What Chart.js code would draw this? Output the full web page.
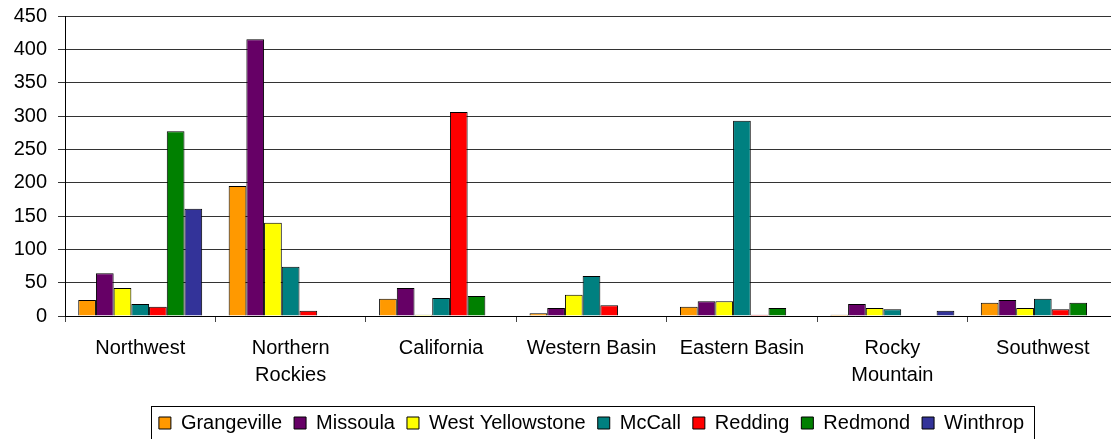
<!DOCTYPE html>
<html>
<head>
<meta charset="utf-8">
<title>Regional counts by station</title>
<script src="https://cdn.jsdelivr.net/npm/chart.js@4.4.1/dist/chart.umd.min.js"></script>
<style>
    html, body {
        margin: 0;
        padding: 0;
        background: #ffffff;
        overflow: hidden;
    }
    #wrap {
        position: absolute;
        left: 0;
        top: 0;
    }
</style>
</head>
<body>
<div id="wrap">
    <canvas id="regionChart" width="1125" height="450"></canvas>
</div>
<script>
// Categories and tick labels
const regions = ['Northwest', ['Northern', 'Rockies'], 'California', 'Western Basin', 'Eastern Basin', ['Rocky', 'Mountain'], 'Southwest'];
const yTicks = [0, 50, 100, 150, 200, 250, 300, 350, 400, 450];

// One series per station, in region order
const grangeville      = [24, 195, 26, 4, 14, 2, 20];
const missoula         = [64, 415, 42, 12, 22, 18, 24];
const westYellowstone  = [42, 140, 2, 32, 22, 12, 12];
const mcCall           = [18, 74, 27, 60, 293, 10, 26];
const redding          = [14, 8, 306, 16, 2, 0, 10];
const redmond          = [277, 0, 30, 0, 12, 0, 20];
const winthrop         = [161, 0, 0, 0, 0, 8, 0];

const stations = ['Grangeville', 'Missoula', 'West Yellowstone', 'McCall', 'Redding', 'Redmond', 'Winthrop'];
const stationColors = ['#FF9900', '#660066', '#FFFF00', '#008080', '#FF0000', '#008000', '#333399'];
const seriesValues = [grangeville, missoula, westYellowstone, mcCall, redding, redmond, winthrop];

Chart.defaults.font.family = '"Liberation Sans", Arial, sans-serif';
Chart.defaults.font.size = 20;
Chart.defaults.color = '#000000';

// Thin black frame around the legend row
const legendFrame = {
    id: 'legendFrame',
    afterDraw(chart) {
        const boxes = chart.legend && chart.legend.legendHitBoxes;
        if (!boxes || !boxes.length) return;
        const left = Math.min(...boxes.map(b => b.left)) - 8;
        const right = Math.max(...boxes.map(b => b.left + b.width)) + 10;
        const top = boxes[0].top - 7;
        const bottom = boxes[0].top + boxes[0].height + 8;
        const ctx = chart.ctx;
        ctx.save();
        ctx.strokeStyle = '#000000';
        ctx.lineWidth = 1;
        ctx.strokeRect(Math.round(left) + 0.5, Math.round(top) + 0.5, Math.round(right - left), Math.round(bottom - top));
        ctx.restore();
    }
};

const datasets = stations.map((name, i) => ({
    label: name,
    data: seriesValues[i],
    backgroundColor: stationColors[i],
    borderColor: '#000000',
    borderWidth: 1
}));

new Chart(document.getElementById('regionChart').getContext('2d'), {
    type: 'bar',
    data: {
        labels: regions,
        datasets: datasets
    },
    options: {
        responsive: false,
        animation: false,
        categoryPercentage: 0.824,
        barPercentage: 1.0,
        layout: {
            padding: { left: 13, right: 7, top: 16, bottom: 7 }
        },
        plugins: {
            legend: {
                position: 'bottom',
                fullSize: false,
                labels: {
                    boxWidth: 12,
                    boxHeight: 12,
                    padding: 12,
                    color: '#000000',
                    font: { size: 20 }
                }
            },
            tooltip: { enabled: false }
        },
        scales: {
            x: {
                grid: {
                    display: true,
                    drawOnChartArea: false,
                    tickLength: 6,
                    color: '#444444'
                },
                border: { display: true, color: '#000000' },
                ticks: {
                    autoSkip: false,
                    maxRotation: 0,
                    padding: 13,
                    color: '#000000',
                    font: { size: 20, lineHeight: 1.35 }
                },
                afterFit: scale => { scale.height -= 1; }
            },
            y: {
                min: 0,
                max: 450,
                afterBuildTicks: scale => {
                    scale.ticks = yTicks.map(v => ({ value: v }));
                },
                afterFit: scale => {
                    // fixed gutter for the labels, no extra room above the top line
                    scale.width = 52;
                    scale.paddingTop = 0;
                    scale.paddingBottom = 0;
                },
                grid: {
                    color: '#333333',
                    tickLength: 7
                },
                border: { display: true, color: '#000000' },
                ticks: {
                    padding: 11,
                    color: '#000000',
                    font: { size: 20 }
                }
            }
        }
    },
    plugins: [legendFrame]
});
</script>
</body>
</html>
